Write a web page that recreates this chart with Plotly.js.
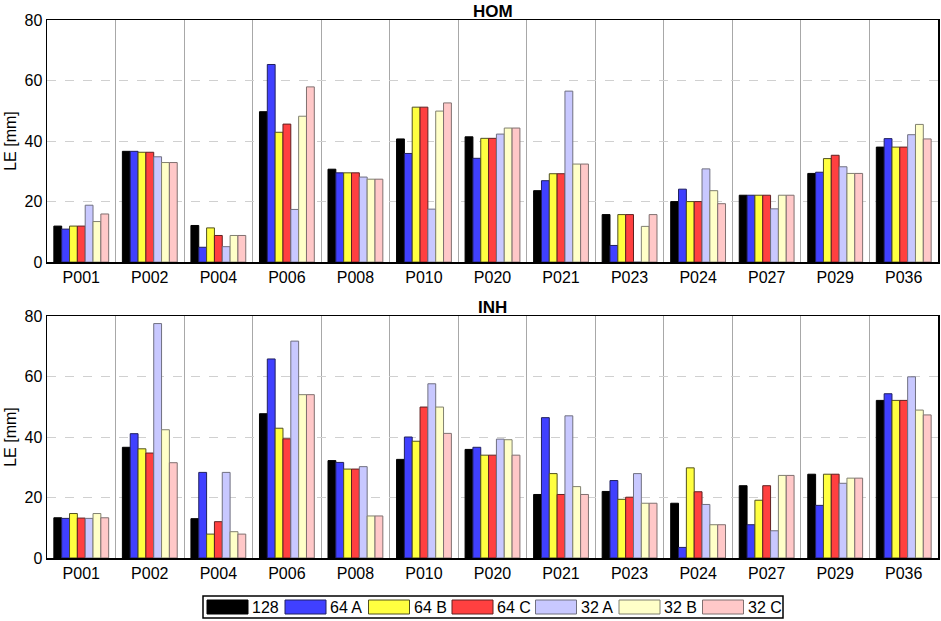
<!DOCTYPE html>
<html>
<head>
<meta charset="utf-8">
<script src="https://cdn.plot.ly/plotly-3.0.1.min.js"></script>
<style>
  html, body { margin: 0; padding: 0; background: #fff; }
  #chart { width: 941px; height: 621px; }
</style>
</head>
<body>
<div id="chart"></div>
<script>
// stations on the x axis
var stations = ['P001', 'P002', 'P004', 'P006', 'P008', 'P010', 'P020',
                'P021', 'P023', 'P024', 'P027', 'P029', 'P036'];

var seriesNames = ['128', '64 A', '64 B', '64 C', '32 A', '32 B', '32 C'];
var seriesColors = ['#000000', '#4040ff', '#ffff40', '#ff4040', '#c8c8ff', '#ffffc8', '#ffc8c8'];
var seriesLines = ['#000000', '#202060', '#505020', '#602020', '#707080', '#808070', '#807070'];

// LE [mm], HOM panel
var hom128 = [11.9, 36.6, 12.1, 49.7, 30.7, 40.7, 41.4, 23.6, 15.7, 20.0, 22.1, 29.3, 38.0];
var hom64A = [10.9, 36.6, 4.9, 65.3, 29.5, 35.9, 34.3, 26.9, 5.5, 24.1, 22.1, 29.7, 40.8];
var hom64B = [11.9, 36.3, 11.3, 42.9, 29.5, 51.2, 40.9, 29.2, 15.7, 20.0, 22.1, 34.2, 38.0];
var hom64C = [11.9, 36.3, 8.8, 45.6, 29.5, 51.2, 40.9, 29.2, 15.7, 20.0, 22.1, 35.3, 38.0];
var hom32A = [18.8, 34.8, 5.1, 17.4, 28.1, 17.5, 42.3, 56.5, 0, 30.8, 17.6, 31.5, 42.1];
var hom32B = [13.4, 32.9, 8.8, 48.2, 27.4, 49.9, 44.3, 32.4, 11.8, 23.6, 22.1, 29.3, 45.5];
var hom32C = [15.9, 32.9, 8.8, 57.9, 27.4, 52.6, 44.3, 32.4, 15.7, 19.3, 22.1, 29.3, 40.7];

// LE [mm], INH panel
var inh128 = [13.3, 36.6, 13.0, 47.7, 32.2, 32.6, 35.9, 21.0, 22.0, 18.1, 23.9, 27.7, 52.1];
var inh64A = [13.1, 41.1, 28.3, 65.8, 31.6, 40.0, 36.6, 46.4, 25.6, 3.5, 11.0, 17.4, 54.3];
var inh64B = [14.7, 36.1, 7.9, 42.9, 29.4, 38.6, 34.0, 27.9, 19.4, 29.8, 19.1, 27.7, 52.1];
var inh64C = [13.2, 34.7, 12.0, 39.4, 29.4, 49.9, 34.0, 21.0, 20.1, 21.9, 23.9, 27.7, 52.1];
var inh32A = [13.1, 77.5, 28.3, 71.7, 30.2, 57.6, 39.3, 47.0, 27.9, 17.7, 9.0, 24.7, 59.9];
var inh32B = [14.7, 42.4, 8.7, 54.0, 13.9, 49.9, 39.1, 23.6, 18.1, 11.0, 27.3, 26.4, 48.9];
var inh32C = [13.3, 31.5, 7.9, 54.0, 13.9, 41.2, 34.0, 21.0, 18.1, 11.0, 27.3, 26.4, 47.3];

var homSeries = [hom128, hom64A, hom64B, hom64C, hom32A, hom32B, hom32C];
var inhSeries = [inh128, inh64A, inh64B, inh64C, inh32A, inh32B, inh32C];

var data = [];
function addPanel(series, xa, ya) {
  for (var i = 0; i < series.length; i++) {
    data.push({
      x: stations,
      y: series[i],
      name: seriesNames[i],
      type: 'bar',
      xaxis: xa,
      yaxis: ya,
      showlegend: false,
      hoverinfo: 'x+y+name',
      marker: {color: seriesColors[i], line: {color: seriesLines[i], width: 1}}
    });
  }
}
addPanel(homSeries, 'x', 'y');
addPanel(inhSeries, 'x2', 'y2');

var font = {family: 'Liberation Sans, Arial, sans-serif', size: 16, color: '#000'};
var titleFont = {family: 'Liberation Sans, Arial, sans-serif', size: 17, color: '#000'};

function xAxis(anchor) {
  return {
    anchor: anchor,
    domain: [0, 1],
    type: 'category',
    tickson: 'boundaries',
    ticks: '',
    showgrid: true,
    gridcolor: '#a8a8a8',
    gridwidth: 1,
    showline: true,
    linecolor: '#000',
    linewidth: 1.5,
    mirror: true,
    tickfont: font,
    fixedrange: true
  };
}
function yAxis(anchor, dom) {
  return {
    anchor: anchor,
    domain: dom,
    range: [0, 80],
    dtick: 20,
    ticks: '',
    showgrid: true,
    gridcolor: '#d0d0d0',
    griddash: 'dash',
    zeroline: false,
    showline: true,
    linecolor: '#000',
    linewidth: 1.5,
    mirror: true,
    tickfont: font,
    title: {text: 'LE [mm]', font: font, standoff: 4},
    fixedrange: true
  };
}

// custom legend: long swatches in a framed box below the panels
var shapes = [];
var annotations = [
  {text: '<b>HOM</b>', xref: 'paper', yref: 'paper', x: 0.5, y: 1.0, yanchor: 'bottom', yshift: -3,
   showarrow: false, font: titleFont},
  {text: '<b>INH</b>', xref: 'paper', yref: 'paper', x: 0.5, y: 0.4498, yanchor: 'bottom', yshift: -3,
   showarrow: false, font: titleFont}
];
var legLeft = 203, legTop = 596, legBottom = 618;
var itemX = legLeft + 4;
var W = 941 - 47 - 3, H = 621 - 20 - 63;
function px(v) { return (v - 47) / W; }
function py(v) { return (621 - 63 - v) / H; }
shapes.push({type: 'rect', xref: 'paper', yref: 'paper',
  x0: px(legLeft), x1: px(783), y0: py(legBottom), y1: py(legTop),
  line: {color: '#000', width: 1.5}, fillcolor: '#fff'});
for (var i = 0; i < seriesNames.length; i++) {
  shapes.push({type: 'rect', xref: 'paper', yref: 'paper',
    x0: px(itemX), x1: px(itemX + 41), y0: py(legBottom - 4), y1: py(legTop + 4),
    line: {color: seriesLines[i], width: 1}, fillcolor: seriesColors[i]});
  annotations.push({text: seriesNames[i], xref: 'paper', yref: 'paper',
    x: px(itemX + 43), y: py((legTop + legBottom) / 2), xanchor: 'left', yanchor: 'middle',
    showarrow: false, font: font});
  itemX += (i === 0) ? 78 : 83.5;
}

var layout = {
  width: 941,
  height: 621,
  margin: {l: 47, r: 3, t: 20, b: 63},
  paper_bgcolor: '#fff',
  plot_bgcolor: '#fff',
  font: font,
  barmode: 'group',
  bargap: 0.2,
  bargroupgap: 0,
  showlegend: false,
  xaxis: xAxis('y'),
  yaxis: yAxis('x', [0.55, 1]),
  xaxis2: xAxis('y2'),
  yaxis2: yAxis('x2', [0, 0.4498]),
  shapes: shapes,
  annotations: annotations
};

Plotly.newPlot('chart', data, layout, {displayModeBar: false, staticPlot: true});
</script>
</body>
</html>
